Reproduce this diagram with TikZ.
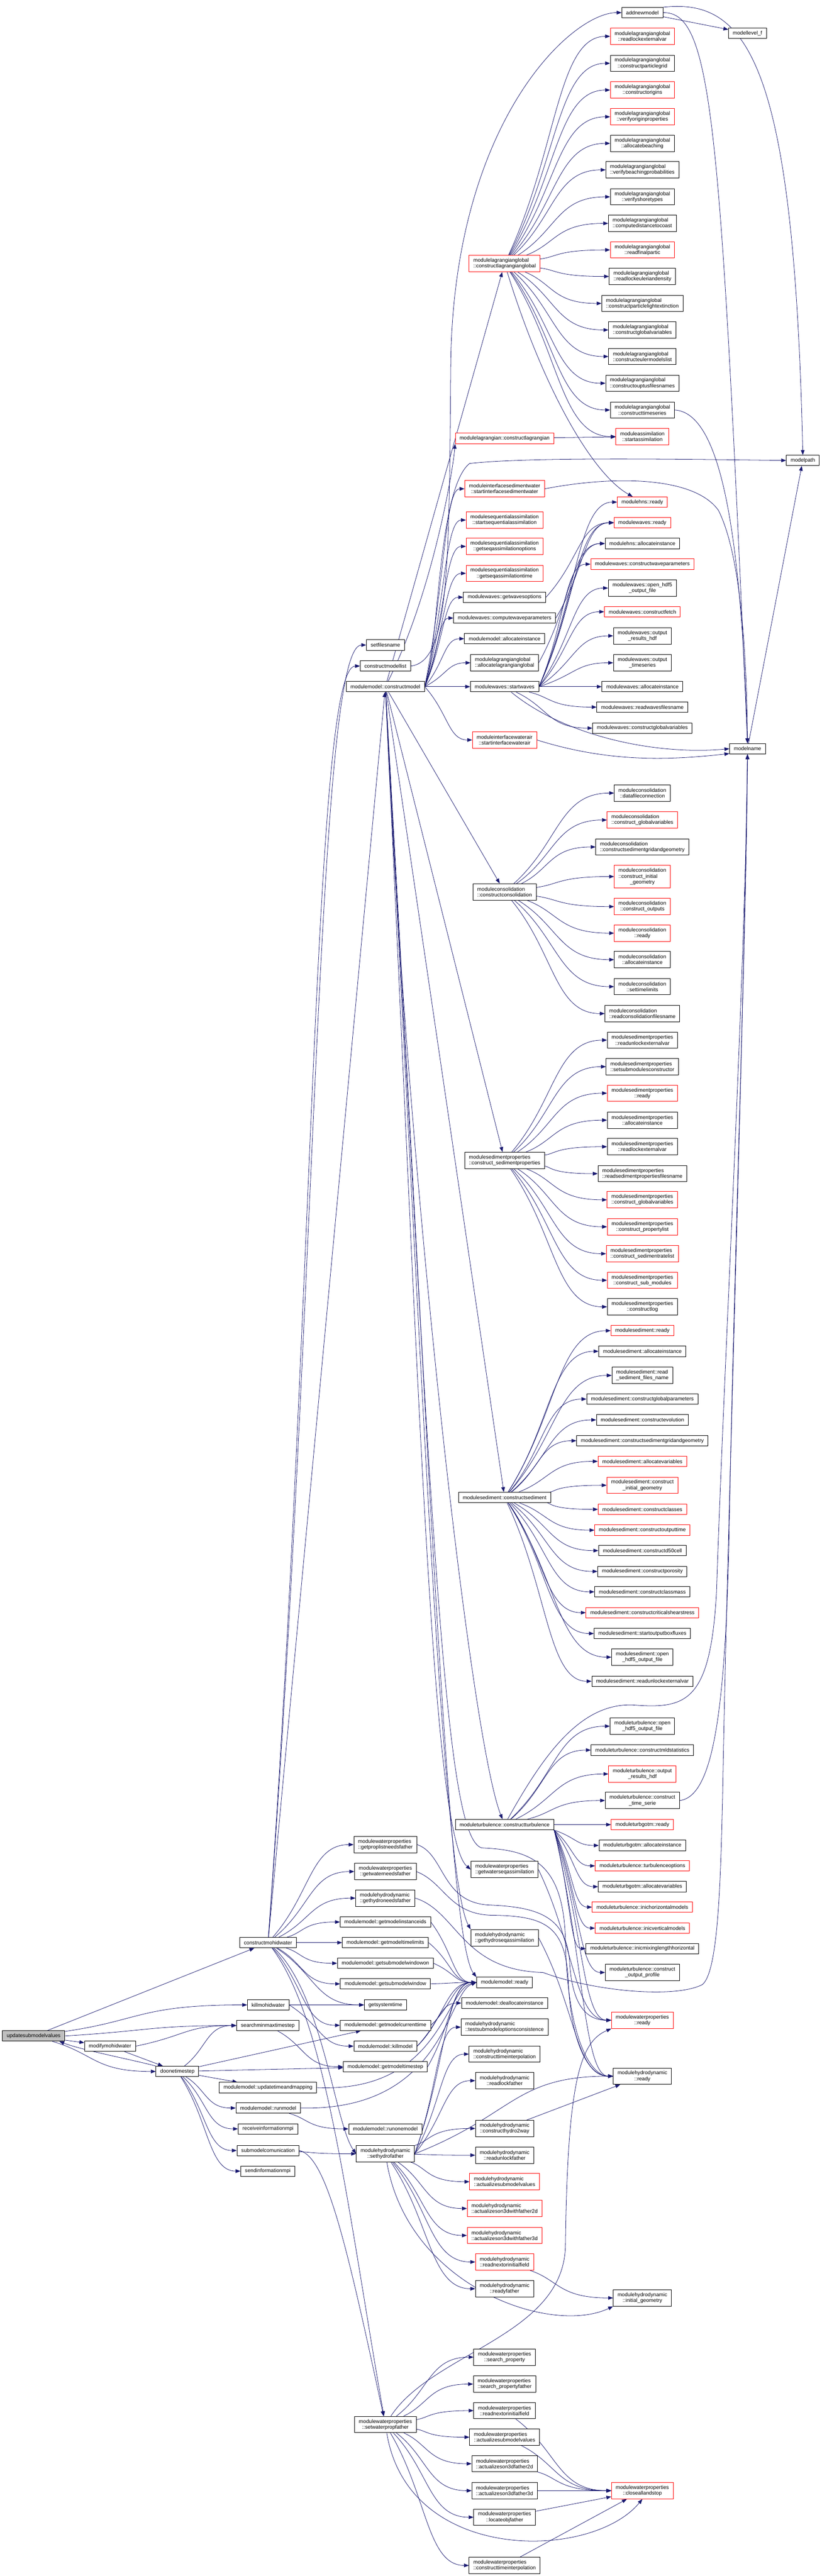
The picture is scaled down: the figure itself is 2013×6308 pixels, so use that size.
\documentclass[tikz,border=0pt]{standalone}
\usepackage{fontspec}
\setmainfont{Liberation Sans}
\usetikzlibrary{arrows.meta,calc}
\definecolor{edgecol}{HTML}{191970}
\definecolor{rootgrey}{HTML}{BFBFBF}
\pgfdeclarelayer{paper}
\pgfdeclarelayer{bg}
\pgfsetlayers{paper,bg,main}
\newcommand\dxfont{\fontsize{6.4pt}{7pt}\selectfont}
\newcommand\twolab[2]{\vbox{\halign{##\hfil\cr#1\cr\hfil#2\cr}}}
\newcommand\threelab[3]{\vbox{\halign{##\hfil\cr#1\cr#2\cr\hfil#3\cr}}}
\newcommand\ecurve[2]{\draw[e] (#1) .. controls ($(#1)!0.5!(#2.west)$) and ($(#2.west)!0.5!(#1 |- #2.west)$) .. (#2.west);}
\newcommand\estraight[2]{\draw[e] (#1) -- (#2);}
\tikzset{
  nd/.style={draw=black, line width=0.6pt, fill=white, font=\dxfont, inner xsep=5.2pt, inner ysep=0pt, minimum height=12.75pt},
  rd/.style={nd, draw=red},
  t2/.style={minimum height=20pt},
  t3/.style={minimum height=27.5pt},
  e/.style={draw=edgecol, line width=0.5pt, -{Triangle[length=6pt,width=4.5pt]}},
}
\begin{document}
\begin{tikzpicture}[x=0.5pt,y=-0.5pt]
\useasboundingbox (0,0) rectangle (2013,6308);
\begin{pgfonlayer}{paper}
\fill[white] (0,0) rectangle (2013,6308);
\end{pgfonlayer}
% ---- left part
\node[nd,fill=rootgrey] (R) at (82.5,4985.5) {updatesubmodelvalues};
\node[nd] (mmw) at (269.5,5010.5) {modifymohidwater};
\node[nd] (dts) at (434.5,5072.5) {doonetimestep};
\node[nd] (cmw) at (656.5,4757) {constructmohidwater};
\node[nd] (kmw) at (657,4909.5) {killmohidwater};
\node[nd] (smm) at (656,4960) {searchminmaxtimestep};
\node[nd] (utm) at (656.5,5112) {modulemodel::updatetimeandmapping};
\node[nd] (rm) at (657,5162) {modulemodel::runmodel};
\node[nd] (rim) at (656.5,5213) {receiveinformationmpi};
\node[nd] (smc) at (656.5,5266) {submodelcomunication};
\node[nd] (sim) at (656,5316.5) {sendinformationmpi};
% ---- column 2
\node[nd] (sfn) at (944,1579.5) {setfilesname};
\node[nd] (cml) at (944,1631) {constructmodellist};
\node[nd] (mcm) at (944,1681.5) {modulemodel::constructmodel};
\node[nd,t2] (gplnf) at (944,4517) {\twolab{modulewaterproperties}{::getproplistneedsfather}};
\node[nd,t2] (gwnf) at (944,4583) {\twolab{modulewaterproperties}{::getwaterneedsfather}};
\node[nd,t2] (ghnf) at (944,4648) {\twolab{modulehydrodynamic}{::gethydroneedsfather}};
\node[nd] (gmii) at (944,4706.5) {modulemodel::getmodelinstanceids};
\node[nd] (gmtl) at (944,4757) {modulemodel::getmodeltimelimits};
\node[nd] (gsmwo) at (944,4807.5) {modulemodel::getsubmodelwindowon};
\node[nd] (gsmw) at (944,4858) {modulemodel::getsubmodelwindow};
\node[nd] (gst) at (944,4909.5) {getsystemtime};
\node[nd] (gmct) at (944,4959.5) {modulemodel::getmodelcurrenttime};
\node[nd] (kmd) at (944,5010.5) {modulemodel::killmodel};
\node[nd] (gmts) at (944,5061) {modulemodel::getmodeltimestep};
\node[nd] (rom) at (944,5213) {modulemodel::runonemodel};
\node[nd,t2] (shf) at (944,5274) {\twolab{modulehydrodynamic}{::sethydrofather}};
\node[nd,t2] (swpf) at (944,5937) {\twolab{modulewaterproperties}{::setwaterpropfather}};
% ---- column 3
\node[rd,t2] (lagglobal) at (1236,645.5) {\twolab{modulelagrangianglobal}{::constructlagrangianglobal}};
\node[rd] (lag) at (1236,1073.5) {modulelagrangian::constructlagrangian};
\node[rd,t2] (isw) at (1236,1197) {\twolab{moduleinterfacesedimentwater}{::startinterfacesedimentwater}};
\node[rd,t2] (ssa) at (1236,1273.5) {\twolab{modulesequentialassimilation}{::startsequentialassimilation}};
\node[rd,t2] (gsao) at (1236,1338) {\twolab{modulesequentialassimilation}{::getseqassimilationoptions}};
\node[rd,t2] (gsat) at (1236,1404) {\twolab{modulesequentialassimilation}{::getseqassimilationtime}};
\node[nd] (gwo) at (1236,1462.5) {modulewaves::getwavesoptions};
\node[nd] (cwp) at (1236,1513.5) {modulewaves::computewaveparameters};
\node[nd] (mmai) at (1236,1564) {modulemodel::allocateinstance};
\node[nd,t2] (alg) at (1236,1623) {\twolab{modulelagrangianglobal}{::allocatelagrangianglobal}};
\node[nd] (sw) at (1236,1681.5) {modulewaves::startwaves};
\node[rd,t2] (iwa) at (1236,1812) {\twolab{moduleinterfacewaterair}{::startinterfacewaterair}};
\node[nd,t2] (cc) at (1236,2184) {\twolab{moduleconsolidation}{::constructconsolidation}};
\node[nd,t2] (csp) at (1236,2841.5) {\twolab{modulesedimentproperties}{::construct\_sedimentproperties}};
\node[nd] (cs) at (1236,3667) {modulesediment::constructsediment};
\node[nd] (ct) at (1236,4468) {moduleturbulence::constructturbulence};
\node[nd,t2] (gwsa) at (1236,4578) {\twolab{modulewaterproperties}{::getwaterseqassimilation}};
\node[nd,t2] (ghsa) at (1236,4745) {\twolab{modulehydrodynamic}{::gethydroseqassimilation}};
\node[nd] (mmr) at (1236,4854.5) {modulemodel::ready};
\node[nd] (mmdi) at (1236,4905) {modulemodel::deallocateinstance};
\node[nd,t2] (tsoc) at (1236,4964) {\twolab{modulehydrodynamic}{::testsubmodeloptionsconsistence}};
\node[nd,t2] (hcti) at (1236,5030) {\twolab{modulehydrodynamic}{::constructtimeinterpolation}};
\node[nd,t2] (rlf) at (1236,5095) {\twolab{modulehydrodynamic}{::readlockfather}};
\node[nd,t2] (ch2w) at (1236,5212) {\twolab{modulehydrodynamic}{::constructhydro2way}};
\node[nd,t2] (ruf) at (1236,5277.5) {\twolab{modulehydrodynamic}{::readunlockfather}};
\node[rd,t2] (hasv) at (1236,5342.5) {\twolab{modulehydrodynamic}{::actualizesubmodelvalues}};
\node[rd,t2] (ha2d) at (1236,5408) {\twolab{modulehydrodynamic}{::actualizeson3dwithfather2d}};
\node[rd,t2] (ha3d) at (1236,5474) {\twolab{modulehydrodynamic}{::actualizeson3dwithfather3d}};
\node[rd,t2] (hrnif) at (1236,5539) {\twolab{modulehydrodynamic}{::readnextorinitialfield}};
\node[nd,t2] (hrf) at (1236,5604.5) {\twolab{modulehydrodynamic}{::readyfather}};
\node[nd,t2] (wsp) at (1236,5772) {\twolab{modulewaterproperties}{::search\_property}};
\node[nd,t2] (wspf) at (1236,5838) {\twolab{modulewaterproperties}{::search\_propertyfather}};
\node[nd,t2] (wrnif) at (1236,5903) {\twolab{modulewaterproperties}{::readnextorinitialfield}};
\node[nd,t2] (wasv) at (1236,5968) {\twolab{modulewaterproperties}{::actualizesubmodelvalues}};
\node[nd,t2] (wa2d) at (1236,6033) {\twolab{modulewaterproperties}{::actualizeson3dfather2d}};
\node[nd,t2] (wa3d) at (1236,6099) {\twolab{modulewaterproperties}{::actualizeson3dfather3d}};
\node[nd,t2] (wlof) at (1236,6164) {\twolab{modulewaterproperties}{::locateobjfather}};
\node[nd,t2] (wcti) at (1236,6282) {\twolab{modulewaterproperties}{::constructtimeinterpolation}};
% ---- column 4
\node[nd] (anm) at (1573.5,31) {addnewmodel};
\node[rd,t2] (lg1) at (1573.5,89) {\twolab{modulelagrangianglobal}{::readlockexternalvar}};
\node[nd,t2] (lg2) at (1573.5,155) {\twolab{modulelagrangianglobal}{::constructparticlegrid}};
\node[rd,t2] (lg3) at (1573.5,220.5) {\twolab{modulelagrangianglobal}{::constructorigins}};
\node[rd,t2] (lg4) at (1573.5,286) {\twolab{modulelagrangianglobal}{::verifyoriginproperties}};
\node[nd,t2] (lg5) at (1573.5,351) {\twolab{modulelagrangianglobal}{::allocatebeaching}};
\node[nd,t2] (lg6) at (1573.5,416) {\twolab{modulelagrangianglobal}{::verifybeachingprobabilities}};
\node[nd,t2] (lg7) at (1573.5,482) {\twolab{modulelagrangianglobal}{::verifyshoretypes}};
\node[nd,t2] (lg8) at (1573.5,547) {\twolab{modulelagrangianglobal}{::computedistancetocoast}};
\node[rd,t2] (lg9) at (1573.5,612) {\twolab{modulelagrangianglobal}{::readfinalpartic}};
\node[nd,t2] (lg10) at (1573.5,677) {\twolab{modulelagrangianglobal}{::readlockeuleriandensity}};
\node[nd,t2] (lg11) at (1573.5,743) {\twolab{modulelagrangianglobal}{::constructparticlelightextinction}};
\node[nd,t2] (lg12) at (1573.5,808) {\twolab{modulelagrangianglobal}{::constructglobalvariables}};
\node[nd,t2] (lg13) at (1573.5,873) {\twolab{modulelagrangianglobal}{::constructeulermodelslist}};
\node[nd,t2] (lg14) at (1573.5,938.5) {\twolab{modulelagrangianglobal}{::constructouptusfilesnames}};
\node[nd,t2] (lg15) at (1573.5,1004) {\twolab{modulelagrangianglobal}{::constructtimeseries}};
\node[rd,t2] (asim) at (1573.5,1069) {\twolab{moduleassimilation}{::startassimilation}};
\node[rd] (hnsr) at (1573.5,1229.5) {modulehns::ready};
\node[rd] (wvr) at (1573.5,1280) {modulewaves::ready};
\node[nd] (hnsai) at (1573.5,1331) {modulehns::allocateinstance};
\node[rd] (wvcwp) at (1573.5,1381.5) {modulewaves::constructwaveparameters};
\node[nd,t2] (wvoh) at (1573.5,1440) {\twolab{modulewaves::open\_hdf5}{\_output\_file}};
\node[rd] (wvcf) at (1573.5,1498) {modulewaves::constructfetch};
\node[nd,t2] (wvorh) at (1573.5,1557) {\twolab{modulewaves::output}{\_results\_hdf}};
\node[nd,t2] (wvots) at (1573.5,1623) {\twolab{modulewaves::output}{\_timeseries}};
\node[nd] (wvai) at (1573.5,1681.5) {modulewaves::allocateinstance};
\node[nd] (wvrwf) at (1573.5,1731.5) {modulewaves::readwavesfilesname};
\node[nd] (wvcgv) at (1573.5,1783) {modulewaves::constructglobalvariables};
\node[nd,t2] (co1) at (1573.5,1942) {\twolab{moduleconsolidation}{::datafileconnection}};
\node[rd,t2] (co2) at (1573.5,2008) {\twolab{moduleconsolidation}{::construct\_globalvariables}};
\node[nd,t2] (co3) at (1573.5,2074) {\twolab{moduleconsolidation}{::constructsedimentgridandgeometry}};
\node[rd,t3] (co4) at (1573.5,2146.5) {\threelab{moduleconsolidation}{::construct\_initial}{\_geometry}};
\node[rd,t2] (co5) at (1573.5,2220) {\twolab{moduleconsolidation}{::construct\_outputs}};
\node[rd,t2] (co6) at (1573.5,2285) {\twolab{moduleconsolidation}{::ready}};
\node[nd,t2] (co7) at (1573.5,2350) {\twolab{moduleconsolidation}{::allocateinstance}};
\node[nd,t2] (co8) at (1573.5,2416) {\twolab{moduleconsolidation}{::settimelimits}};
\node[nd,t2] (co9) at (1573.5,2482) {\twolab{moduleconsolidation}{::readconsolidationfilesname}};
\node[nd,t2] (sp1) at (1573.5,2547) {\twolab{modulesedimentproperties}{::readunlockexternalvar}};
\node[nd,t2] (sp2) at (1573.5,2612) {\twolab{modulesedimentproperties}{::setsubmodulesconstructor}};
\node[rd,t2] (sp3) at (1573.5,2677) {\twolab{modulesedimentproperties}{::ready}};
\node[nd,t2] (sp4) at (1573.5,2743) {\twolab{modulesedimentproperties}{::allocateinstance}};
\node[nd,t2] (sp5) at (1573.5,2808) {\twolab{modulesedimentproperties}{::readlockexternalvar}};
\node[nd,t2] (sp6) at (1573.5,2874) {\twolab{modulesedimentproperties}{::readsedimentpropertiesfilesname}};
\node[rd,t2] (sp7) at (1573.5,2938) {\twolab{modulesedimentproperties}{::construct\_globalvariables}};
\node[rd,t2] (sp8) at (1573.5,3004) {\twolab{modulesedimentproperties}{::construct\_propertylist}};
\node[rd,t2] (sp9) at (1573.5,3070) {\twolab{modulesedimentproperties}{::construct\_sedimentratelist}};
\node[rd,t2] (sp10) at (1573.5,3135) {\twolab{modulesedimentproperties}{::construct\_sub\_modules}};
\node[nd,t2] (sp11) at (1573.5,3200) {\twolab{modulesedimentproperties}{::constructlog}};
\node[rd] (sd1) at (1573.5,3258.5) {modulesediment::ready};
\node[nd] (sd2) at (1573.5,3309) {modulesediment::allocateinstance};
\node[nd,t2] (sd3) at (1573.5,3368) {\twolab{modulesediment::read}{\_sediment\_files\_name}};
\node[nd] (sd4) at (1573.5,3426) {modulesediment::constructglobalparameters};
\node[nd] (sd5) at (1573.5,3477) {modulesediment::constructevolution};
\node[nd] (sd6) at (1573.5,3528) {modulesediment::constructsedimentgridandgeometry};
\node[rd] (sd7) at (1573.5,3578.5) {modulesediment::allocatevariables};
\node[rd,t2] (sd8) at (1573.5,3637) {\twolab{modulesediment::construct}{\_initial\_geometry}};
\node[rd] (sd9) at (1573.5,3696) {modulesediment::constructclasses};
\node[rd] (sd10) at (1573.5,3747) {modulesediment::constructoutputtime};
\node[nd] (sd11) at (1573.5,3797) {modulesediment::constructd50cell};
\node[nd] (sd12) at (1573.5,3848) {modulesediment::constructporosity};
\node[nd] (sd13) at (1573.5,3898) {modulesediment::constructclassmass};
\node[rd] (sd14) at (1573.5,3949) {modulesediment::constructcriticalshearstress};
\node[nd] (sd15) at (1573.5,4000) {modulesediment::startoutputboxfluxes};
\node[nd,t2] (sd16) at (1573.5,4058) {\twolab{modulesediment::open}{\_hdf5\_output\_file}};
\node[nd] (sd17) at (1573.5,4117) {modulesediment::readunlockexternalvar};
\node[nd,t2] (tb1) at (1573.5,4227) {\twolab{moduleturbulence::open}{\_hdf5\_output\_file}};
\node[nd] (tb2) at (1573.5,4285.5) {moduleturbulence::constructmldstatistics};
\node[rd,t2] (tb3) at (1573.5,4344) {\twolab{moduleturbulence::output}{\_results\_hdf}};
\node[nd,t2] (tb4) at (1573.5,4409) {\twolab{moduleturbulence::construct}{\_time\_serie}};
\node[rd] (tb5) at (1573.5,4468) {moduleturbgotm::ready};
\node[nd] (tb6) at (1573.5,4519) {moduleturbgotm::allocateinstance};
\node[rd] (tb7) at (1573.5,4569) {moduleturbulence::turbulenceoptions};
\node[nd] (tb8) at (1573.5,4620) {moduleturbgotm::allocatevariables};
\node[rd] (tb9) at (1573.5,4670) {moduleturbulence::inichorizontalmodels};
\node[rd] (tb10) at (1573.5,4721.5) {moduleturbulence::inicverticalmodels};
\node[nd] (tb11) at (1573.5,4771.5) {moduleturbulence::inicmixinglengthhorizontal};
\node[nd,t2] (tb12) at (1573.5,4830) {\twolab{moduleturbulence::construct}{\_output\_profile}};
\node[rd,t2] (wpr) at (1573.5,4947) {\twolab{modulewaterproperties}{::ready}};
\node[nd,t2] (hyr) at (1573.5,5084) {\twolab{modulehydrodynamic}{::ready}};
\node[nd,t2] (hig) at (1573.5,5627) {\twolab{modulehydrodynamic}{::initial\_geometry}};
\node[rd,t2] (cals) at (1573.5,6099) {\twolab{modulewaterproperties}{::closeallandstop}};
% ---- columns 5, 6
\node[nd] (mlf) at (1831,81.5) {modellevel\_f};
\node[nd] (mnm) at (1831,1833.5) {modelname};
\node[nd] (mpath) at (1966.5,1127.5) {modelpath};

\begin{pgfonlayer}{bg}
% root area
\estraight{R}{cmw}
\ecurve{R}{kmw}
\ecurve{R.east}{smm}
\estraight{R}{mmw}
\ecurve{R}{dts}
\draw[e] (dts.north west) .. controls (330,5045) and (200,5020) .. (R.-12);
\ecurve{mmw.east}{smm}
\estraight{mmw}{dts}
\ecurve{dts}{smm}
\estraight{dts}{gmct}
\estraight{dts}{gmts}
\estraight{dts}{utm}
\ecurve{dts}{rm}
\ecurve{dts}{rim}
\ecurve{dts}{smc}
\ecurve{dts}{sim}
% constructmohidwater
\ecurve{cmw}{sfn}
\ecurve{cmw}{cml}
\estraight{cmw}{mcm}
\foreach \t in {gplnf,gwnf,ghnf,gmii,gmtl,gsmwo,gsmw,gst,gmct} {\ecurve{cmw}{\t}}
\draw[e] (cmw) .. controls (790,4880) and (820,5200) .. (shf.west);
\draw[e] (cmw) .. controls (800,4950) and (850,5400) .. (swpf);
\draw[e] (smc.east) .. controls (800,5280) and (850,5500) .. (swpf);
\ecurve{smc}{shf}
\estraight{kmw}{gst}
\ecurve{kmw.east}{kmd}
\ecurve{smm}{gmts}
\ecurve{rm}{rom}
% modulemodel::ready
\foreach \t in {gmii,gmtl,gsmwo,gsmw,gmct,kmd,gmts} {\ecurve{\t.east}{mmr}}
\ecurve{kmd.east}{mmdi}
\draw[e] (utm.east) .. controls (1080,5125) and (1090,4870) .. (mmr.west);
\draw[e] (rm.east) .. controls (1090,5170) and (1095,4880) .. (mmr.west);
% sethydrofather
\foreach \t in {mmr,tsoc,hcti,rlf,hyr} {\ecurve{shf.east}{\t}}
\foreach \t in {ch2w,ruf,hasv,ha2d,ha3d,hrnif,hrf} {\ecurve{shf}{\t}}
\draw[e] (shf) .. controls (1000,5600) and (1350,5720) .. (hig.south west);
\ecurve{hrnif}{hig}
\ecurve{ghsa.east}{hyr}
\estraight{ch2w}{hyr}
\ecurve{gwsa.east}{wpr}
\draw[e] (gplnf.east) .. controls (1090,4540) and (1080,4660) .. (1200,4665) .. controls (1330,4670) and (1385,4700) .. (1395,4800) .. controls (1400,4900) and (1430,4947) .. (wpr.west);
\draw[e] (gwnf.east) .. controls (1090,4610) and (1100,4690) .. (1210,4690) .. controls (1340,4692) and (1385,4720) .. (1392,4850) .. controls (1398,5000) and (1440,5084) .. (hyr.west);
\draw[e] (ghnf.east) .. controls (1120,4680) and (1130,4825) .. (1330,4830) .. controls (1450,4875) and (1650,4895) .. (1720,4860) .. controls (1760,4830) and (1765,4600) .. (1770,4400) .. controls (1780,3800) and (1820,2600) .. (mnm.south);
% setwaterpropfather
\foreach \t in {wsp,wspf,wrnif,wasv,wa2d,wa3d,wlof,wcti} {\ecurve{swpf}{\t}}
\draw[e] (swpf) .. controls (1060,5760) and (1380,5720) .. (1385,5500) .. controls (1390,5100) and (1420,5000) .. (wpr.south west);
\draw[e] (swpf) .. controls (1000,6280) and (1450,6270) .. (cals.south);
\foreach \t in {wrnif,wasv,wa2d} {\ecurve{\t}{cals}}
\estraight{wa3d}{cals}
\estraight{wlof}{cals}
\estraight{wcti}{cals}
% constructmodel
\draw[e] (mcm.east) .. controls (1075,1600) and (1070,1200) .. (1150,1135) .. controls (1300,1118) and (1700,1125) .. (mpath.west);
\estraight{mcm}{lagglobal}
\draw[e] (mcm) .. controls (1060,1450) and (1110,1150) .. (lag.south west);
\foreach \t in {isw,ssa,gsao,gsat,gwo,cwp,mmai,alg,sw,iwa} {\ecurve{mcm.east}{\t}}
\estraight{mcm}{cc}
\estraight{mcm}{csp}
\estraight{mcm}{cs}
\draw[e] (mcm) .. controls (990,2800) and (1150,4250) .. (ct);
\draw[e] (mcm) .. controls (1030,3500) and (1060,4500) .. (gwsa.west);
\draw[e] (mcm) .. controls (1040,3500) and (1085,4600) .. (ghsa.north west);
\draw[e] (mcm) .. controls (1050,3500) and (1095,4750) .. (mmr.north west);
\draw[e] (mcm) .. controls (1060,3800) and (1090,4500) .. (1180,4525) .. controls (1300,4530) and (1380,4560) .. (1385,4750) .. controls (1390,5000) and (1450,5084) .. (hyr.west);
% top
\draw[e] (cml.east) .. controls (1100,1620) and (1100,1400) .. (1104,900) .. controls (1108,300) and (1400,30) .. (anm.west);
\estraight{anm}{mlf}
\draw[e] (anm.east) .. controls (1745,28) and (1765,300) .. (mnm.north);
\draw[e] (anm.north east) .. controls (1830,-5) and (1945,150) .. (mpath.north);
\estraight{mnm}{mpath}
\foreach \i in {1,...,15} {\ecurve{lagglobal}{lg\i}}
\ecurve{lagglobal}{asim}
\draw[e] (lagglobal) .. controls (1330,950) and (1450,1160) .. (hnsr);
\estraight{lag}{asim}
\draw[e] (lg15.east) .. controls (1765,1010) and (1815,1300) .. (mnm.north);
\draw[e] (isw.east) .. controls (1500,1165) and (1700,1165) .. (1760,1250) .. controls (1800,1330) and (1828,1500) .. (mnm.north);
% waves
\foreach \t in {hnsr,wvr,hnsai,wvcwp,wvoh,wvcf,wvorh,wvots} {\ecurve{sw.east}{\t}}
\estraight{sw}{wvai}
\ecurve{sw}{wvrwf}
\ecurve{sw}{wvcgv}
\draw[e] (sw) .. controls (1380,1800) and (1600,1850) .. (mnm.west);
\draw[e] (iwa.east) .. controls (1500,1870) and (1650,1860) .. (mnm.195);
\ecurve{gwo.east}{wvr}
\ecurve{cwp.east}{wvr}
\ecurve{alg.east}{hnsai}
% consolidation, sediment properties, sediment
\foreach \i in {1,...,9} {\ecurve{cc}{co\i}}
\foreach \i in {1,...,11} {\ecurve{csp}{sp\i}}
\foreach \i in {1,...,17} {\ecurve{cs}{sd\i}}
% turbulence
\foreach \i in {1,...,4} {\ecurve{ct}{tb\i}}
\estraight{ct}{tb5}
\foreach \i in {6,...,12} {\ecurve{ct.south east}{tb\i}}
\ecurve{ct.south east}{wpr}
\ecurve{ct.south east}{hyr}
\draw[e] (ct) .. controls (1330,4300) and (1420,4170) .. (1550,4175) .. controls (1680,4185) and (1740,4170) .. (1755,3900) .. controls (1775,3300) and (1825,2400) .. (mnm.south);
\draw[e] (tb4.east) .. controls (1745,4400) and (1775,4200) .. (1785,3800) .. controls (1800,3000) and (1828,2300) .. (mnm.south);
\end{pgfonlayer}
\end{tikzpicture}
\end{document}
